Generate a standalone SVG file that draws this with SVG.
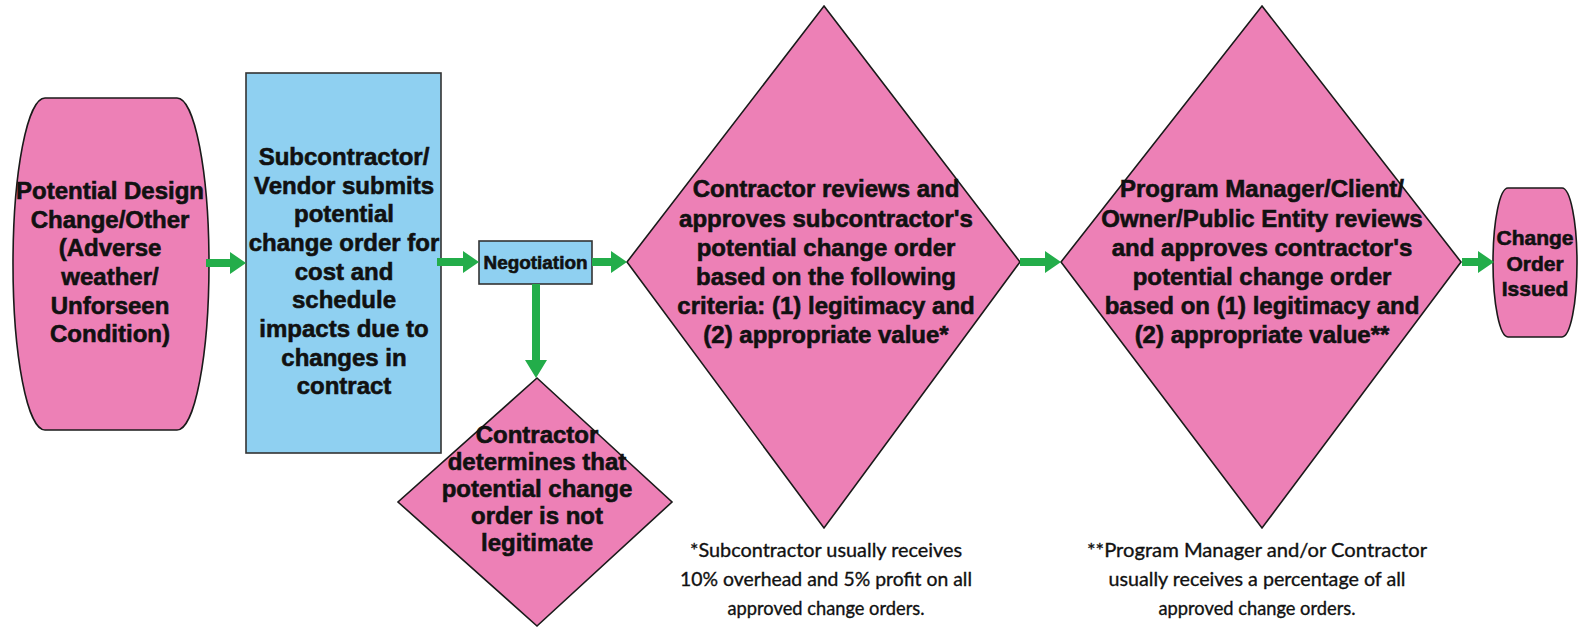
<svg xmlns="http://www.w3.org/2000/svg" width="1585" height="628" viewBox="0 0 1585 628">
  <style>
    .pink { fill: #ed80b6; stroke: #1a1a1a; stroke-width: 1.6; }
    .blue { fill: #8fd0f1; stroke: #333; stroke-width: 1.6; }
    .lbl { font-family: "Liberation Sans", Arial, sans-serif; font-weight: bold; font-size: 24px; fill: #111; stroke: #111; stroke-width: 0.6; text-anchor: middle; }
    .small { font-size: 21px; }
    .neg { font-size: 18px; }
    .note { font-family: Lato, "Liberation Sans", sans-serif; font-size: 20px; fill: #111; stroke: #111; stroke-width: 0.35; text-anchor: middle; }
    .arrow { fill: #23ad4a; }
  </style>

  <rect width="1585" height="628" fill="#ffffff"/>

  <!-- start: potential design change -->
  <g id="node-start">
    <path class="pink" d="M45 98 H177 A32 166 0 0 1 177 430 H45 A32 166 0 0 1 45 98 Z"/>
    <text class="lbl" x="110" y="199">Potential Design</text>
    <text class="lbl" x="110" y="228">Change/Other</text>
    <text class="lbl" x="110" y="256">(Adverse</text>
    <text class="lbl" x="110" y="285">weather/</text>
    <text class="lbl" x="110" y="314">Unforseen</text>
    <text class="lbl" x="110" y="342">Condition)</text>
  </g>

  <!-- subcontractor submits -->
  <g id="node-submit">
    <rect class="blue" x="246" y="73" width="195" height="380"/>
    <text class="lbl" x="344" y="165">Subcontractor/</text>
    <text class="lbl" x="344" y="193.5">Vendor submits</text>
    <text class="lbl" x="344" y="222">potential</text>
    <text class="lbl" x="344" y="251">change order for</text>
    <text class="lbl" x="344" y="279.5">cost and</text>
    <text class="lbl" x="344" y="308">schedule</text>
    <text class="lbl" x="344" y="337">impacts due to</text>
    <text class="lbl" x="344" y="365.5">changes in</text>
    <text class="lbl" x="344" y="394">contract</text>
  </g>

  <!-- negotiation -->
  <g id="node-negotiation">
    <rect class="blue" x="479" y="241" width="113" height="43"/>
    <text class="lbl neg" x="535.5" y="268.5" textLength="104" lengthAdjust="spacingAndGlyphs">Negotiation</text>
  </g>

  <!-- not legitimate -->
  <g id="node-reject">
    <polygon class="pink" points="537,378 672,502 537,626 398,502"/>
    <text class="lbl" x="537" y="443">Contractor</text>
    <text class="lbl" x="537" y="470">determines that</text>
    <text class="lbl" x="537" y="497">potential change</text>
    <text class="lbl" x="537" y="524">order is not</text>
    <text class="lbl" x="537" y="551">legitimate</text>
  </g>

  <!-- contractor review -->
  <g id="node-contractor-review">
    <polygon class="pink" points="824,6 1020,262 824,528 627,262"/>
    <text class="lbl" x="826" y="197">Contractor reviews and</text>
    <text class="lbl" x="826" y="226.5">approves subcontractor's</text>
    <text class="lbl" x="826" y="256">potential change order</text>
    <text class="lbl" x="826" y="285">based on the following</text>
    <text class="lbl" x="826" y="314">criteria: (1) legitimacy and</text>
    <text class="lbl" x="826" y="343">(2) appropriate value*</text>
  </g>

  <!-- owner review -->
  <g id="node-owner-review">
    <polygon class="pink" points="1262,6 1461,262 1262,528 1061,262"/>
    <text class="lbl" x="1262" y="197">Program Manager/Client/</text>
    <text class="lbl" x="1262" y="226.5">Owner/Public Entity reviews</text>
    <text class="lbl" x="1262" y="256">and approves contractor's</text>
    <text class="lbl" x="1262" y="285">potential change order</text>
    <text class="lbl" x="1262" y="314">based on (1) legitimacy and</text>
    <text class="lbl" x="1262" y="343">(2) appropriate value**</text>
  </g>

  <!-- end: change order issued -->
  <g id="node-issued">
    <path class="pink" d="M1508 188 H1562 A15 74.5 0 0 1 1562 337 H1508 A15 74.5 0 0 1 1508 188 Z"/>
    <text class="lbl small" x="1535" y="245">Change</text>
    <text class="lbl small" x="1535" y="270.5">Order</text>
    <text class="lbl small" x="1535" y="296">Issued</text>
  </g>

  <!-- footnotes -->
  <g id="note-subcontractor">
    <text class="note" x="826" y="557" textLength="272" lengthAdjust="spacingAndGlyphs">*Subcontractor usually receives</text>
    <text class="note" x="826" y="586" textLength="292" lengthAdjust="spacingAndGlyphs">10% overhead and 5% profit on all</text>
    <text class="note" x="826" y="615" textLength="197" lengthAdjust="spacingAndGlyphs">approved change orders.</text>
  </g>
  <g id="note-program-manager">
    <text class="note" x="1257" y="557" textLength="340" lengthAdjust="spacingAndGlyphs">**Program Manager and/or Contractor</text>
    <text class="note" x="1257" y="586" textLength="297" lengthAdjust="spacingAndGlyphs">usually receives a percentage of all</text>
    <text class="note" x="1257" y="615" textLength="197" lengthAdjust="spacingAndGlyphs">approved change orders.</text>
  </g>

  <!-- connectors: block arrows -->
  <g id="connectors">
    <path class="arrow" d="M206 259 H230 V252 L246 263 L230 274 V267 H206 Z"/>
    <path class="arrow" d="M437 258 H463 V251 L479 262 L463 273 V266 H437 Z"/>
    <path class="arrow" d="M592 258 H611 V251 L627 262 L611 273 V266 H592 Z"/>
    <path class="arrow" d="M532 284 V360 H525 L536 378 L547 360 H540 V284 Z"/>
    <path class="arrow" d="M1020 258 H1045 V251 L1061 262 L1045 273 V266 H1020 Z"/>
    <path class="arrow" d="M1462 258 H1478 V251 L1494 262 L1478 273 V266 H1462 Z"/>
  </g>
</svg>
